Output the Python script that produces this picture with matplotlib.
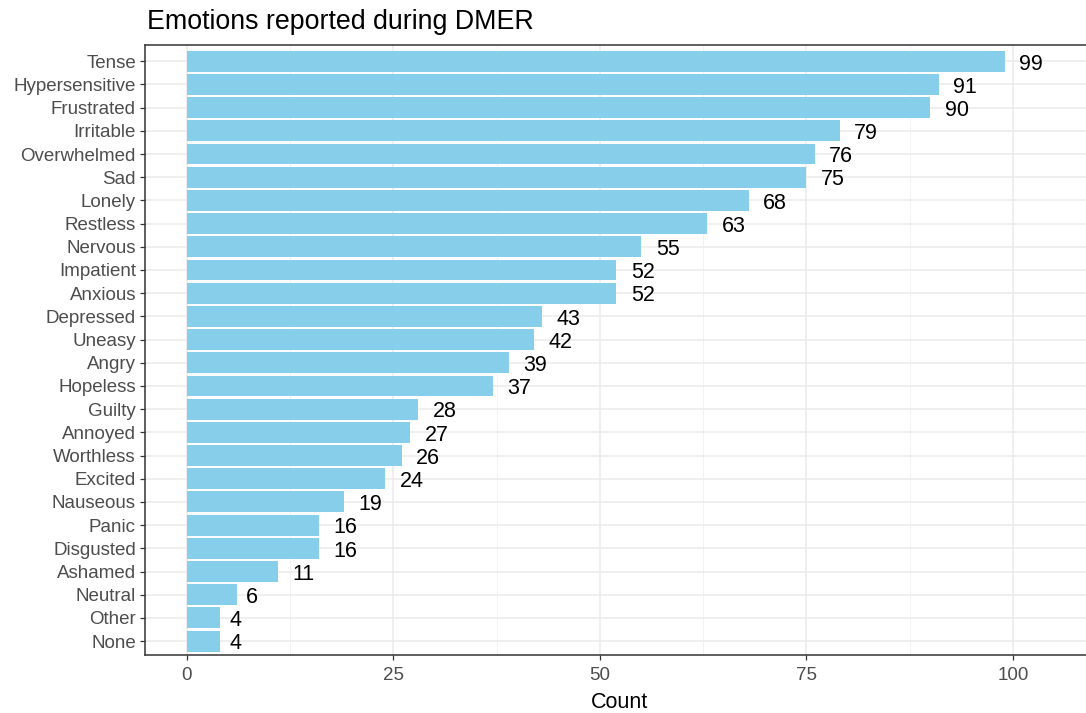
import matplotlib.pyplot as plt
import numpy as np

plt.rcParams['font.family'] = ['Liberation Sans', 'DejaVu Sans']

# emotions, top to bottom as shown
emotions = ["Tense", "Hypersensitive", "Frustrated", "Irritable", "Overwhelmed",
            "Sad", "Lonely", "Restless", "Nervous", "Impatient", "Anxious",
            "Depressed", "Uneasy", "Angry", "Hopeless", "Guilty", "Annoyed",
            "Worthless", "Excited", "Nauseous", "Panic", "Disgusted", "Ashamed",
            "Neutral", "Other", "None"]
counts = [99, 91, 90, 79, 76, 75, 68, 63, 55, 52, 52, 43, 42, 39, 37, 28, 27,
          26, 24, 19, 16, 16, 11, 6, 4, 4]
xticks = [0, 25, 50, 75, 100]

W, H = 1086, 713
fig = plt.figure(figsize=(W / 100, H / 100), dpi=100)
# panel runs a bit past the right edge of the picture (cropped)
left, right, top, bottom = 145, 1095, 45, 655
ax = fig.add_axes([left / W, 1 - bottom / H, (right - left) / W, (bottom - top) / H])

n = len(emotions)
y = np.arange(n)[::-1] + 1
ax.barh(y, counts, height=0.9, color="#87CEEB", zorder=2)

for yi, c in zip(y, counts):
    s = str(c)
    ax.annotate(s, (c, yi), xytext=(2.5 + 4.0 * len(s), -2), textcoords="offset points",
                ha="left", va="center", fontsize=15.5, color="black", zorder=3)

ax.set_xlim(-5.08, 109.93)
ax.set_ylim(0.4, n + 0.7)
ax.set_yticks(y)
ax.set_yticklabels(emotions)
ax.set_xticks(xticks)
ax.set_xticks([12.5, 37.5, 62.5, 87.5], minor=True)

ax.grid(True, which="major", color="#EBEBEB", linewidth=1.1, zorder=0)
ax.grid(True, which="minor", axis="x", color="#F2F2F2", linewidth=0.7, zorder=0)
ax.set_axisbelow(True)

for side in ["left", "top", "bottom"]:
    ax.spines[side].set_color("#333333")
    ax.spines[side].set_linewidth(1.1)
ax.spines["right"].set_visible(False)

ax.tick_params(axis="both", which="major", length=3.5, width=0.9, color="#333333",
               labelcolor="#4D4D4D", labelsize=13.5, pad=3)
ax.tick_params(axis="x", which="major", pad=5)
ax.tick_params(axis="x", which="minor", length=0)

ax.set_xlabel("Count", fontsize=15.5, labelpad=6)
fig.text(147 / W, 1 - 22 / H, "Emotions reported during DMER", fontsize=19.3,
         ha="left", va="center")

fig.savefig("out.png", dpi=100)
